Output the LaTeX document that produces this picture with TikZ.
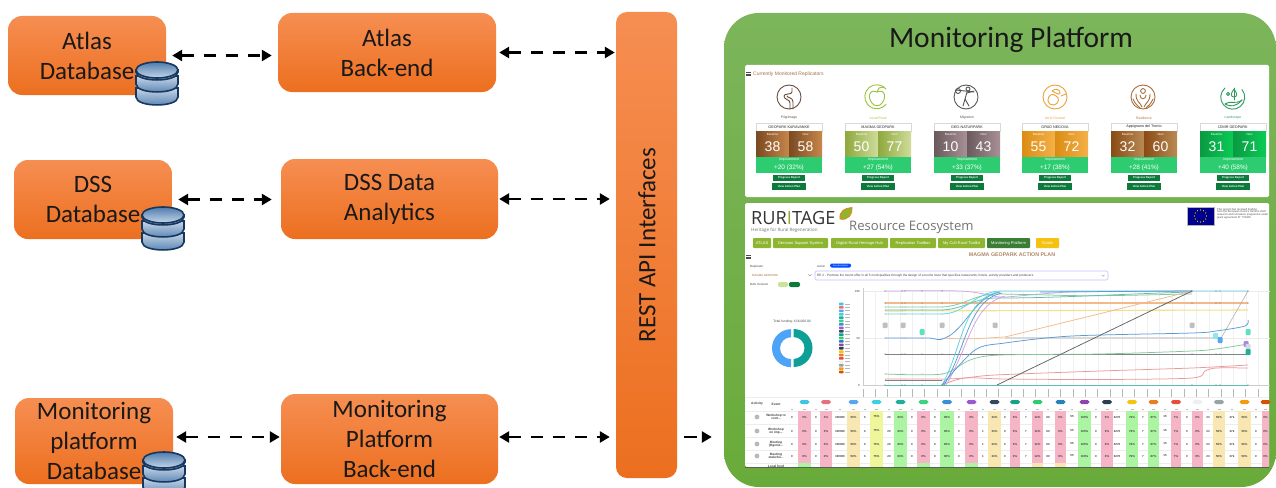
\documentclass[tikz,border=0pt]{standalone}
\usepackage{fontspec}
\setmainfont{Carlito}
\newfontfamily\uifont{Liberation Sans}
\newfontfamily\logofont{Open Sans}
\usetikzlibrary{arrows.meta}
\definecolor{orT}{HTML}{F68E52}
\definecolor{orB}{HTML}{EC6F1F}
\definecolor{panelT}{HTML}{7CB55B}
\definecolor{panelB}{HTML}{69AB3A}
\definecolor{dbline}{HTML}{17375E}
\definecolor{dbdark}{HTML}{4E7CAE}
\definecolor{dblight}{HTML}{C6D6E8}
\definecolor{brownT}{HTML}{A5714A}
\definecolor{impr}{HTML}{2ECC71}
\definecolor{btnG}{HTML}{0B7A3B}
\definecolor{olive}{HTML}{8DB52F}
\definecolor{cPink}{HTML}{F5B5C6}
\definecolor{cCream}{HTML}{F9E7B2}
\definecolor{cYell}{HTML}{EFF59B}
\definecolor{cGreen}{HTML}{ABF5A2}
\definecolor{sCyan}{HTML}{5FD3E0}
\definecolor{sBlue}{HTML}{5C9BD6}
\definecolor{sTeal}{HTML}{5FBFAF}
\definecolor{sGreen}{HTML}{85C79D}
\definecolor{sGrey}{HTML}{7E8485}
\definecolor{sRed}{HTML}{E89A9A}
\definecolor{sOrange}{HTML}{F3B98A}
\definecolor{sYellow}{HTML}{F5E08F}
\definecolor{sPurple}{HTML}{D3A5E0}
\definecolor{sDark}{HTML}{5F6465}
\definecolor{tA1}{HTML}{7A4A22}\definecolor{tA2}{HTML}{C8864A}
\definecolor{tB1}{HTML}{8EA83C}\definecolor{tB2}{HTML}{CFDC9B}
\definecolor{tC1}{HTML}{6A5A5C}\definecolor{tC2}{HTML}{A89096}
\definecolor{tD1}{HTML}{DC8C14}\definecolor{tD2}{HTML}{F4B048}
\definecolor{tE1}{HTML}{8A4A14}\definecolor{tE2}{HTML}{B98A55}
\definecolor{tF1}{HTML}{0A9A42}\definecolor{tF2}{HTML}{0ACB55}
\definecolor{iA}{HTML}{6B4A3A}\definecolor{iB}{HTML}{9BC13C}\definecolor{iC}{HTML}{555555}
\definecolor{iD}{HTML}{E8A33D}\definecolor{iE}{HTML}{A86F3D}\definecolor{iF}{HTML}{2E9B5F}
\definecolor{P1}{HTML}{3FC5E0}\definecolor{P2}{HTML}{E8707A}\definecolor{P3}{HTML}{5AA5F0}
\definecolor{P4}{HTML}{3FD0E0}\definecolor{P5}{HTML}{20B09A}\definecolor{P6}{HTML}{40D080}
\definecolor{P7}{HTML}{3A8FD8}\definecolor{P8}{HTML}{9B59D0}\definecolor{P9}{HTML}{34495E}
\definecolor{P10}{HTML}{16A085}\definecolor{P11}{HTML}{2ECC71}\definecolor{P12}{HTML}{2980B9}
\definecolor{P13}{HTML}{8E44AD}\definecolor{P14}{HTML}{2C3E50}\definecolor{P15}{HTML}{F1C40F}
\definecolor{P16}{HTML}{E67E22}\definecolor{P17}{HTML}{E74C3C}\definecolor{P18}{HTML}{ECF0F1}
\definecolor{P19}{HTML}{95A5A6}\definecolor{P20}{HTML}{F39C12}\definecolor{P21}{HTML}{D35400}
\newcommand{\fs}[1]{\fontsize{#1}{#1}\selectfont}
\tikzset{
 bigbox/.style={rectangle,rounded corners=14pt,top color=orT,bottom color=orB,draw=none,align=center,
   inner sep=0pt,font=\fontsize{25}{30}\selectfont,text=black!90},
 link/.style={line width=2.8pt,dash pattern=on 12.5pt off 9.5pt,{Triangle[length=10pt,width=11pt]}-{Triangle[length=10pt,width=11pt]}},
 linkone/.style={line width=2.8pt,dash pattern=on 12.5pt off 9.5pt,-{Triangle[length=10pt,width=11pt]}},
 tiny/.style={inner sep=0pt,font=\uifont\fs{2.9},text=black!75},
 tinyb/.style={inner sep=0pt,font=\uifont\bfseries\fs{3.2},text=black!75,align=center},
 serie/.style={line width=0.75pt},
 badge/.style={rounded corners=1pt,line width=.3pt},
 icon/.style={line width=.9pt,line cap=round,line join=round},
 dbicon/.pic={
  \foreach \a/\b in {26/35,14/22,8/10}{
   \shade[top color=dblight,bottom color=dbdark,draw=dbline,line width=1.6pt]
     (-21,\a) -- (-21,\b) .. controls (-21,\b+10.6) and (21,\b+10.6) .. (21,\b) -- (21,\a) -- cycle;
  }
  \shade[top color=dbdark,bottom color=dblight,draw=dbline,line width=1.6pt] (0,8) ellipse [x radius=21,y radius=8];
 }
}
\newcommand{\repcard}[9]{%
 \begin{scope}[shift={(#1,0)}]
  \node[inner sep=0pt,font=\uifont\fs{3.4},text=#3] (lab#1) at (33,118) {#2};
  \path[fill=white,draw=black!15,line width=.4pt] (0,123) rectangle (66,131);
  \node[inner sep=0pt,font=\uifont\fs{3.7},text=black!85] (nam#1) at (33,127) {#4};
  \shade[left color=#5,right color=#6] (0,131) rectangle (33,157);
  \shade[left color=#5,right color=#6] (33,131) rectangle (66,157);
  \node[inner sep=0pt,font=\uifont\fs{3},text=white] (bas#1) at (16.5,134) {Baseline};
  \node[inner sep=0pt,font=\uifont\fs{3},text=white] (now#1) at (49.5,134) {Now};
  \node[inner sep=0pt,font=\uifont\fs{14},text=white] (sa#1) at (16.5,147) {#7};
  \node[inner sep=0pt,font=\uifont\fs{14},text=white] (sb#1) at (49.5,147) {#8};
  \path[fill=impr] (0,157) rectangle (66,173);
  \node[inner sep=0pt,font=\uifont\fs{3.4},text=white] (imp#1) at (33,160) {Improvement};
  \node[inner sep=0pt,font=\uifont\fs{6.4},text=white] (val#1) at (33,167.5) {#9};
  \path[fill=btnG] (17,175) rectangle (49,181);
  \node[inner sep=0pt,font=\uifont\bfseries\fs{2.8},text=white] (pr#1) at (33,178) {Progress Report};
  \path[fill=btnG] (16,183) rectangle (50,190);
  \node[inner sep=0pt,font=\uifont\bfseries\fs{2.8},text=white] (va#1) at (33,186.5) {View Action Plan};
 \end{scope}}
\begin{document}
\begin{tikzpicture}[x=1pt,y=-1pt]
\clip (0,0) rectangle (1276,487);
\path[fill=white] (0,0) rectangle (1276,487);

% ---------- left boxes
\node[bigbox,minimum width=158pt,minimum height=79pt] (atlasdb) at (87,55.5) {Atlas\\Database};
\node[bigbox,minimum width=218pt,minimum height=79pt] (atlasbe) at (387,52.5) {Atlas\\Back-end};
\node[bigbox,minimum width=158pt,minimum height=79pt] (dssdb) at (93,199.5) {DSS\\Database};
\node[bigbox,minimum width=217pt,minimum height=80pt] (dssbe) at (389.5,199) {DSS Data\\Analytics};
\node[bigbox,minimum width=158pt,minimum height=86pt] (mondb) at (94,441) {Monitoring\\platform\\Database};
\node[bigbox,minimum width=217pt,minimum height=90pt] (monbe) at (389.5,439) {Monitoring\\Platform\\Back-end};
\node[rectangle,rounded corners=11pt,top color=orT,bottom color=orB,minimum width=61pt,minimum height=466pt,inner sep=0pt] (rest) at (646.5,245) {};
\node[rotate=90,inner sep=0pt,font=\fontsize{25}{30}\selectfont,text=black!90] (resttxt) at (647,245) {REST API Interfaces};

\pic at (157,62) {dbicon};
\pic at (163,207) {dbicon};
\pic at (164,452) {dbicon};

% ---------- panel
\node[rectangle,rounded corners=35pt,top color=panelT,bottom color=panelB,minimum width=552pt,minimum height=474pt,inner sep=0pt] (panel) at (1000,250) {};
\node[inner sep=0pt,font=\fontsize{29.5}{34}\selectfont,text=black!90] (paneltitle) at (1011,40) {Monitoring Platform};

% ---------- connectors
\draw[link,shorten <=6pt,shorten >=6pt] (atlasdb.east) -- (atlasdb.east -| atlasbe.west);
\draw[link,shorten <=3pt,shorten >=1pt] (atlasbe.east) -- (atlasbe.east -| rest.west);
\draw[link,shorten <=6pt,shorten >=9pt] (dssdb.east) -- (dssdb.east -| dssbe.west);
\draw[link,shorten <=1pt,shorten >=6pt] (dssbe.east) -- (dssbe.east -| rest.west);
\draw[link,shorten <=3pt,shorten >=1pt] ([yshift=4pt]mondb.east) -- ([yshift=4pt]mondb.east -| monbe.west);
\draw[link,shorten <=1pt,shorten >=6pt] ([yshift=2pt]monbe.east) -- ([yshift=2pt]monbe.east -| rest.west);
\draw[linkone,shorten <=7pt,shorten >=12pt] ([yshift=2pt]monbe.east -| rest.east) -- ([yshift=2pt]monbe.east -| panel.west);

% ---------- top white panel
\path[fill=white,rounded corners=1.5pt] (745,65) rectangle (1269,197);
\foreach \yy in {72.5,74,75.5}{\draw[black!70,line width=.9pt] (746,\yy) -- (751,\yy);}
\node[inner sep=0pt,anchor=west,font=\uifont\fs{5},text=brownT] (curr) at (753,74) {Currently Monitored Replicators};
\repcard{756}{Pilgrimage}{iA}{GEOPARK KARAVANKE}{tA1}{tA2}{38}{58}{+20 (32\%)}
\repcard{845}{Local Food}{iB}{MAGMA GEOPARK}{tB1}{tB2}{50}{77}{+27 (54\%)}
\repcard{934}{Migration}{iC}{GEO-NATURPARK}{tC1}{tC2}{10}{43}{+33 (37\%)}
\repcard{1022}{Art \& Festival}{iD}{GRAD NEGOVA}{tD1}{tD2}{55}{72}{+17 (38\%)}
\repcard{1111}{Resilience}{iE}{Appignano del Tronto}{tE1}{tE2}{32}{60}{+28 (41\%)}
\repcard{1200}{Landscape}{iF}{IZMIR GEOPARK}{tF1}{tF2}{31}{71}{+40 (58\%)}

% icons
\begin{scope}[shift={(789,97)},icon,draw=iA]
 \draw (0,0) circle (12);
 \draw (1,12) -- (1,6) .. controls (1,2) and (-5,3) .. (-5,-1) .. controls (-5,-4) and (3,-2) .. (3,-5) -- (3,-9);
 \draw (4,12) -- (4,5) .. controls (4,0) and (-2,1) .. (-2,-1);
\end{scope}
\begin{scope}[shift={(877,97)},icon,draw=iB]
 \draw (9,-8) arc (-40:-320:12);
 \draw (0,-5) .. controls (-9,-9) and (-10,3) .. (-3,8) .. controls (-1,9) and (1,9) .. (3,8) .. controls (10,3) and (9,-9) .. (0,-5);
 \draw (0,-5) -- (2,-9) -- (7,-10);
\end{scope}
\begin{scope}[shift={(966,97)},icon,draw=iC]
 \draw (0,0) circle (12);
 \draw (2,-8) circle (2);
 \draw (1,-5) -- (-1,2) -- (-3,9);
 \draw (-1,2) -- (3,9);
 \draw (1,-4) -- (8,-6);
 \draw (-10,-7) -- (8,-5);
 \draw (-8,-6) circle (2.5);
\end{scope}
\begin{scope}[shift={(1055,97)},icon,draw=iD]
 \draw (0,0) circle (12);
 \draw (-7,4) .. controls (-7,-3) and (-2,-4) .. (1,-1) .. controls (5,0) and (4,7) .. (-1,8) .. controls (-4,8) and (-7,7) .. (-7,4);
 \draw (-3,-6) .. controls (0,-9) and (5,-8) .. (5,-4) .. controls (5,-2) and (2,-3) .. (-3,-6);
 \draw (6,-1) -- (11,-3);
\end{scope}
\begin{scope}[shift={(1143,97)},icon,draw=iE]
 \draw (0,0) circle (12);
 \draw (0,-6) circle (2.4);
 \draw (-7,-3) .. controls (-7,5) and (-3,5) .. (-1,10);
 \draw (7,-3) .. controls (7,5) and (3,5) .. (1,10);
 \draw (-3,-2) .. controls (-3,3) and (3,3) .. (3,-2);
 \draw (-10,2) .. controls (-8,7) and (-5,9) .. (-3,11);
 \draw (10,2) .. controls (8,7) and (5,9) .. (3,11);
\end{scope}
\begin{scope}[shift={(1233,97)},icon,draw=iF]
 \draw (-8,-9) arc (-130:-400:12);
 \draw (-8,7) .. controls (-3,3) and (3,8) .. (9,3);
 \draw (-8,7) .. controls (-3,10) and (3,10) .. (9,3);
 \draw (1,-9) -- (1,3);
 \draw (1,-8) .. controls (-3,-3) and (-2,0) .. (1,0) .. controls (4,0) and (5,-3) .. (1,-8);
 \draw (-5,-3) circle (1.6);
\end{scope}

% ---------- lower white panel
\path[fill=white,rounded corners=1.5pt] (745,203) rectangle (1269,467);
\draw[black!70,line width=.6pt,opacity=.8] (745,467.4) -- (1269,467.4);

% header logo
\node[inner sep=0pt,anchor=base west,font=\logofont\fs{18.2},text=black!80] (logo) at (751,224.3) {RUR{\color{olive!70!brown}I}TAGE};
\node[inner sep=0pt,anchor=west,font=\logofont\fs{4.5},text=black!55] (logosub) at (751,230.3) {Heritage for Rural Regeneration};
\path[fill=olive,draw=orange!70!brown,line width=.8pt] (840,219) .. controls (839,211) and (845,208) .. (852,207.5) .. controls (853,214) and (848,221) .. (840,219) -- cycle;
\node[inner sep=0pt,anchor=west,font=\logofont\fs{13.1},text=black!55] (resource) at (849,227) {Resource Ecosystem};
% EU flag
\path[fill=blue!55!black,draw=black!30,line width=.3pt] (1187,207) rectangle (1214,225);
\foreach \aa in {0,30,...,330}{\path[fill=yellow!90!orange] ({1200.5+6*cos(\aa)},{216+6*sin(\aa)}) circle (.65);}
\node[tiny,anchor=north west,align=left,font=\uifont\fs{2.7},text=black!70] (eutxt) at (1217,208) {This project has received funding\\from the European Union's Horizon 2020\\research and innovation programme under\\grant agreement N° 776465.};
% nav
\definecolor{navdark}{HTML}{3A7D34}
\definecolor{navyel}{HTML}{F5C211}
\foreach \xa/\xb/\lab/\colr/\nm in {753/771/ATLAS/olive/n1,773/828/Decision Support System/olive/n2,831/888/Digital Rural Heritage Hub/olive/n3,890/936/Replication Toolbox/olive/n4,938/985/My Cult-Rural Toolkit/olive/n5,987/1030/Monitoring Platform/navdark/n6,1036/1059/Guide/navyel/n7}{
 \path[fill=\colr,rounded corners=.8pt] (\xa,238) rectangle (\xb,248);
 \node[inner sep=0pt,font=\uifont\fs{4},text=white] (\nm) at ({(\xa+\xb)/2},243) {\lab};
}
\node[inner sep=0pt,font=\uifont\bfseries\fs{5.3},text=brownT!85] (plan) at (1012,255) {MAGMA GEOPARK ACTION PLAN};
\foreach \yy in {255.5,257,258.5}{\draw[black!70,line width=.8pt] (746,\yy) -- (751,\yy);}
% form
\node[tiny,anchor=west] (freplab) at (750,266.5) {Replicator};
\node[tiny,anchor=west,text=brownT] (frepval) at (752,275) {MAGMA GEOPARK};
\node[tiny,anchor=west] (fdas) at (750,284.3) {DAS Involved};
\draw[black!50,line width=.3pt] (808.5,274.3) -- (810,275.8) -- (811.5,274.3);
\node[tiny,anchor=west] (factlab) at (817,266.5) {Action};
\path[fill=blue!70!cyan,rounded corners=1.5pt] (830,263.5) rectangle (851,267.5);
\node[inner sep=0pt,font=\uifont\fs{2.2},text=white] (fdesc) at (840.5,265.5) {See description};
\path[fill=white,draw=blue!25,line width=.6pt,rounded corners=2pt] (815,271) rectangle (1108,280);
\node[tiny,anchor=west,font=\uifont\fs{3.15}] (factval) at (817,275.5) {RE 2 - Promote the tourist offer in all 5 municipalities through the design of a tourist route that specifies restaurants, hotels, activity providers and producers};
\draw[black!50,line width=.3pt] (1101.5,274.8) -- (1103,276.3) -- (1104.5,274.8);
\definecolor{pillA}{HTML}{C9E39A}
\path[fill=pillA,rounded corners=2pt] (778,282) rectangle (788,287);
\path[fill=btnG,rounded corners=2pt] (789,282) rectangle (800,287);

% donut
\definecolor{donutB}{HTML}{4DA3F5}
\definecolor{donutT}{HTML}{0E9F97}
\node[inner sep=0pt,font=\uifont\fs{3.3},text=black!70] (fund) at (792,322) {Total funding: €16,000.00};
\path[fill=donutB] (791,329.2) arc (-90:-270:19) -- (791,359.2) arc (-270:-90:11) -- cycle;
\path[fill=donutT] (793.5,329) arc (-90:90:19 and 19) -- (793.5,359) arc (90:-90:11) -- cycle;
% legend
\foreach \i in {1,...,21}{
 \path[fill=P\i,rounded corners=.6pt] (839,{304+3.4*(\i-1)-1.3}) rectangle (843.5,{304+3.4*(\i-1)+1.3});
 \draw[black!28,line width=.8pt] (845,{304+3.4*(\i-1)}) -- (850,{304+3.4*(\i-1)});
}

% chart
\foreach \i in {0,...,32}{
 \draw[black!6,line width=.3pt] ({863+12.35*\i},291) -- ({863+12.35*\i},385);
 \draw[black!28,line width=.9pt] ({863+12.35*\i},389) -- ({863+12.35*\i},397);
}
\draw[black!8,line width=.3pt] (863,291) -- (1270,291) (863,338) -- (1270,338);
\draw[black!20,line width=.4pt] (863,288) -- (863,385) -- (1270,385);
\node[tiny,anchor=east] (y100) at (860,291) {100};
\node[tiny,anchor=east] (y50) at (860,338) {50};
\node[tiny,anchor=east] (y0) at (860,385) {0};

\draw[serie,draw=black!15,line width=1.4pt] (1005,338) -- (1216,338);
\draw[serie,draw=sOrange,line width=1.6pt] (885,303) -- (1248,303);
\draw[serie,draw=sYellow,line width=1.1pt] (885,311) -- (1248,310);
\draw[serie,draw=sPurple] plot[smooth,tension=.5] coordinates {(885,291) (960,291) (990,295) (1005,297) (1072,292) (1192,291)};
\draw[serie,draw=sGreen] (885,307) -- (942,307) .. controls (965,306) and (975,293) .. (1000,294) -- (1050,295) .. controls (1100,297) and (1170,294) .. (1192,294);
\draw[serie,draw=sTeal] (885,310) -- (942,310) .. controls (965,309) and (975,297) .. (1000,298) .. controls (1060,298) and (1120,294) .. (1192,292);
\draw[serie,draw=sCyan] (885,314) -- (942,314) .. controls (965,314) and (975,292) .. (1000,291) -- (1248,291);
\draw[serie,draw=sBlue] (1040,292) -- (1192,291);
\draw[serie,draw=sBlue] (885,338) -- (930,338) .. controls (936,339) and (940,341) .. (945,338) .. controls (965,330) and (975,296) .. (1000,292);
\draw[serie,draw=sOrange] (945,338) .. controls (965,340) and (985,338) .. (1005,337);
\draw[serie,draw=sOrange] (1005,337) -- (1192,291);
\draw[serie,draw=sGrey] (885,354) -- (1248,354);
\draw[serie,draw=sGreen] plot[smooth,tension=.5] coordinates {(885,374) (942,374) (970,360) (1000,355) (1100,354) (1192,351) (1216,349) (1248,344)};
\draw[serie,draw=sRed] plot[smooth,tension=.5] coordinates {(885,379) (942,379) (965,378) (995,375) (1100,371) (1192,368) (1248,365)};
\draw[serie,draw=sGrey] (885,380) -- (942,380);
\draw[serie,draw=sRed] plot[smooth,tension=.5] coordinates {(942,385) (965,378) (1005,379) (1100,379.5) (1192,378) (1205,371) (1216,368) (1248,368)};
\draw[serie,draw=sCyan] (942,385) .. controls (962,350) and (962,300) .. (998,292);
\draw[serie,draw=sBlue] (944,385) .. controls (966,350) and (968,300) .. (1002,293);
\draw[serie,draw=sPurple] (946,385) .. controls (970,345) and (972,305) .. (1005,296);
\draw[serie,draw=sBlue] plot[smooth,tension=.5] coordinates {(942,385) (975,350) (1005,343) (1072,336) (1192,333) (1216,331) (1245,326) (1248,320)};
\draw[serie,draw=sTeal] (885,385) -- (1248,385);
\draw[serie,draw=sDark] (997,385) -- (1192,291);
\draw[serie,draw=black!35,line width=.5pt] (1220,340) -- (1248,291);
\foreach \mx in {885,902,905,922,942,1192,1216,1220,1248}{
 \foreach \my in {291,303,354,385}{\path[fill=black!55] (\mx,\my) circle (.55);}
}
\foreach \mx in {885,902,905,922,942}{
 \foreach \my in {307,310,314,338,374,380}{\path[fill=black!45] (\mx,\my) circle (.5);}
}
\definecolor{bGreen}{HTML}{5FE0C0}
\definecolor{bCyan}{HTML}{90E5EE}
\definecolor{bBlue}{HTML}{5AA5F0}
\definecolor{bPur}{HTML}{A98BE6}
\foreach \bx in {885,903,942,995,1192}{\path[fill=black!25,badge] (\bx-2.5,322.5) rectangle (\bx+2.5,328);}
\path[fill=bGreen,badge] (919.5,329) rectangle (924.5,335);
\path[fill=bCyan,badge] (1213,333) rectangle (1218,339);
\path[fill=bBlue,badge] (1217.5,337) rectangle (1222.5,343);
\path[fill=bGreen,badge] (1245.5,329) rectangle (1250.5,335);
\path[fill=bPur,badge] (1243.5,341) rectangle (1248.5,347);
\path[fill=black!15,badge] (1245.5,344) rectangle (1250.5,350);
\path[fill=P5,badge] (1245.5,349) rectangle (1250.5,355);

% table
\node[tinyb] (thact) at (757,404) {Activity};
\node[tinyb] (thev) at (776,404) {Event};
\foreach \yy in {397,411,424,437,450,463}{\draw[black!7,line width=.3pt] (745,\yy) -- (1269,\yy);}
\foreach \yy/\nm/\nb in {417/e1/{Workshop to\\cont...},431/e2/{Workshop\\on imp...},444/e3/{Meeting\\(Ogeniz...},456/e4/{Meeting\\stakeho...}}{
 \path[fill=black!28] (757,\yy) circle (2.4);
 \node[tinyb] (\nm) at (776,\yy) {\nb};
}
\node[tinyb] (e5) at (776,466) {Local food};
\foreach \cn/\vx/\pa/\pb/\vv/\pc/\colr/\colb in {%
 1/792/798/811/0/0/cPink/cGreen,
 2/816/820/832/0/0/cPink/cPink,
 3/840/847/860/300000/50/cCream/cCream,
 4/865/870/883/6/75/cYell/cYell,
 5/889/894/907/20/83/cGreen/cGreen,
 6/912/917/930/0/0/cPink/cGreen,
 7/935/940/954/8/80/cGreen/cGreen,
 8/959/965/978/0/0/cPink/cGreen,
 9/983/988/1001/1/33/cCream/cCream,
 10/1005/1010/1020/0/0/cPink/cPink,
 11/1026/1032/1043/7/12/cPink/cCream,
 12/1048/1055/1066/80/6/cPink/cCream,
 13/1072/1078/1091/55/100/cGreen/cGreen,
 14/1096/1101/1113/0/0/cPink/cPink,
 15/1117/1126/1138/6270/79/cGreen/cGreen,
 16/1143/1148/1159/7/87/cGreen/cGreen,
 17/1165/1171/1181/15/7/cPink/cPink,
 18/1187/1192/1203/0/0/cPink/cPink,
 19/1208/1213/1225/23/50/cCream/cCream,
 20/1232/1238/1251/27k/50/cCream/cCream,
 21/1256/1262/1269/0/0/cPink/cPink}{
 \path[fill=\colr] (\pa,411) rectangle (\pb,463);
 \path[fill=\colb] (\pa,463) rectangle (\pb,467);
 \path[fill=P\cn,rounded corners=1.8pt] ({(\pa+\pb)/2-5},400) rectangle ({(\pa+\pb)/2+5},404);
 \draw[black!25,line width=.5pt] (\vx-1.2,409) -- (\vx+1.2,409) ({(\pa+\pb)/2-1.5},409) -- ({(\pa+\pb)/2+1.5},409);
 \foreach \ry/\rn in {417/a,431/b,444/c,456/d}{
  \node[tiny,font=\uifont\bfseries\fs{2.9}] (v\cn\rn) at (\vx,\ry) {\vv};
  \node[tiny,font=\uifont\bfseries\fs{2.9}] (p\cn\rn) at ({(\pa+\pb)/2},\ry) {\pc\%};
 }
}
\end{tikzpicture}
\end{document}
